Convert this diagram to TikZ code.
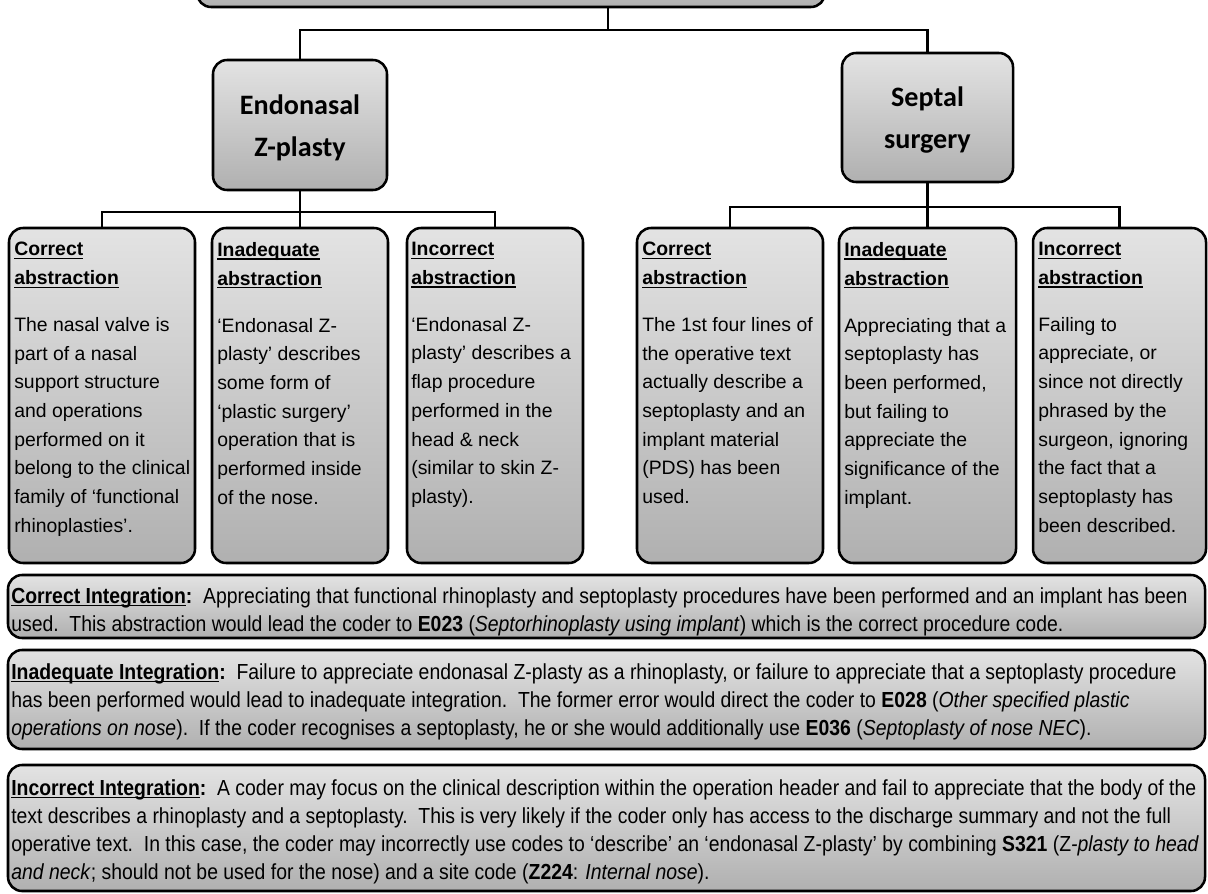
\documentclass[tikz,border=0pt]{standalone}
\usepackage{fontspec}
\setmainfont{Liberation Sans}
\newfontfamily\titlefont{Carlito}
\newfontfamily\narrowfont[FakeStretch=0.89]{Liberation Sans}
\usetikzlibrary{fit}

\newcommand{\ulhead}[1]{\setbox0=\hbox{#1}\rlap{\rule[-2.4pt]{\wd0}{0.9pt}}\box0}

\tikzset{
  box/.style={draw, line width=1.8pt, rounded corners=10pt, top color=black!11, bottom color=black!31, inner sep=0pt},
  headtext/.style={font=\titlefont\bfseries\fontsize{20}{30}\selectfont, align=center, inner sep=0pt, yshift=-2pt},
  link/.style={line width=1.7pt},
  boxtext/.style={anchor=north west, inner sep=0pt, align=left, font=\fontsize{13.8}{20.4}\selectfont},
  inttext/.style={anchor=north west, inner sep=0pt, align=left, font=\narrowfont\fontsize{15.5}{19.9}\selectfont}
}

\begin{document}
\begin{tikzpicture}[x=0.025cm, y=-0.025cm]
  \useasboundingbox (0,0) rectangle (1208,893);

  % top of the chart (cut off)
  \node[box, fit={(197,-60) (825,7)}] (root) {};
  \coordinate (rootbar) at (608,30);

  % the two procedures
  \node[box, fit={(213,60) (387,190)}] (endo) {};
  \node[box, fit={(842,53) (1013,182)}] (sept) {};
  \node[headtext] (endotxt) at (endo) {Endonasal\\Z-plasty};
  \node[headtext] (septtxt) at (sept) {Septal\\surgery};

  \draw[link] (rootbar |- root.south) -- (rootbar);
  \draw[link] (endo.north) |- (rootbar) -| (sept.north);

  % abstraction boxes, endonasal Z-plasty
  \node[box, fit={(9,228) (195,563)}] (eca) {};
  \node[box, fit={(212,228) (388,563)}] (eia) {};
  \node[box, fit={(407,228) (583,563)}] (eic) {};

  \coordinate (ebar) at (endo.south |- 0,212);
  \draw[link] (endo.south) -- (eia.north);
  \draw[link] (eca.north) |- (ebar) -| (eic.north);

  \node[boxtext] (ecatxt) at (14,242) {\textbf{\ulhead{Correct}}\\\textbf{\ulhead{abstraction}}\\[13pt]
    The nasal valve is\\part of a nasal\\support structure\\and operations\\performed on it\\belong to the clinical\\family of ‘functional\\rhinoplasties’.};
  \node[boxtext] (eiatxt) at (217,242) {\textbf{\ulhead{Inadequate}}\\\textbf{\ulhead{abstraction}}\\[13pt]
    ‘Endonasal Z-\\plasty’ describes\\some form of\\‘plastic surgery’\\operation that is\\performed inside\\of the nose.};
  \node[boxtext] (eictxt) at (411,242) {\textbf{\ulhead{Incorrect}}\\\textbf{\ulhead{abstraction}}\\[13pt]
    ‘Endonasal Z-\\plasty’ describes a\\flap procedure\\performed in the\\head \& neck\\(similar to skin Z-\\plasty).};

  % abstraction boxes, septal surgery
  \node[box, fit={(637,228) (823,563)}] (sca) {};
  \node[box, fit={(839,228) (1016,563)}] (sia) {};
  \node[box, fit={(1033,228) (1206,563)}] (sic) {};

  \coordinate (sbar) at (sept.south |- 0,207);
  \draw[link] (sept.south) -- (sia.north);
  \draw[link] (sca.north) |- (sbar) -| (sic.north);

  \node[boxtext] (scatxt) at (642,242) {\textbf{\ulhead{Correct}}\\\textbf{\ulhead{abstraction}}\\[13pt]
    The 1st four lines of\\the operative text\\actually describe a\\septoplasty and an\\implant material\\(PDS) has been\\used.};
  \node[boxtext] (siatxt) at (844,242) {\textbf{\ulhead{Inadequate}}\\\textbf{\ulhead{abstraction}}\\[13pt]
    Appreciating that a\\septoplasty has\\been performed,\\but failing to\\appreciate the\\significance of the\\implant.};
  \node[boxtext] (sictxt) at (1038,242) {\textbf{\ulhead{Incorrect}}\\\textbf{\ulhead{abstraction}}\\[13pt]
    Failing to\\appreciate, or\\since not directly\\phrased by the\\surgeon, ignoring\\the fact that a\\septoplasty has\\been described.};

  % integration boxes
  \node[box, fit={(8,575) (1205,638)}] (ci) {};
  \node[box, fit={(8,650) (1205,749)}] (ia) {};
  \node[box, fit={(8,765) (1205,891)}] (ic) {};

  \node[inttext] (citxt) at (11,587) {\ulhead{\textbf{Correct Integration}}\textbf{:}\ \ Appreciating that functional rhinoplasty and septoplasty procedures have been performed and an implant has been\\
    used.\ \ This abstraction would lead the coder to \textbf{E023} (\textit{Septorhinoplasty using implant}) which is the correct procedure code.};
  \node[inttext] (iatxt) at (11,663) {\ulhead{\textbf{Inadequate Integration}}\textbf{:}\ \ Failure to appreciate endonasal Z-plasty as a rhinoplasty, or failure to appreciate that a septoplasty procedure\\
    has been performed would lead to inadequate integration.\ \ The former error would direct the coder to \textbf{E028} (\textit{Other specified plastic}\\
    \textit{operations on nose}).\ \ If the coder recognises a septoplasty, he or she would additionally use \textbf{E036} (\textit{Septoplasty of nose NEC}).};
  \node[inttext] (ictxt) at (11,779) {\ulhead{\textbf{Incorrect Integration}}\textbf{:}\ \ A coder may focus on the clinical description within the operation header and fail to appreciate that the body of the\\
    text describes a rhinoplasty and a septoplasty.\ \ This is very likely if the coder only has access to the discharge summary and not the full\\
    operative text.\ \ In this case, the coder may incorrectly use codes to ‘describe’ an ‘endonasal Z-plasty’ by combining \textbf{S321} (Z\textit{-plasty to head}\\
    \textit{and neck}; should not be used for the nose) and a site code (\textbf{Z224}: \textit{Internal nose}).};
\end{tikzpicture}
\end{document}
